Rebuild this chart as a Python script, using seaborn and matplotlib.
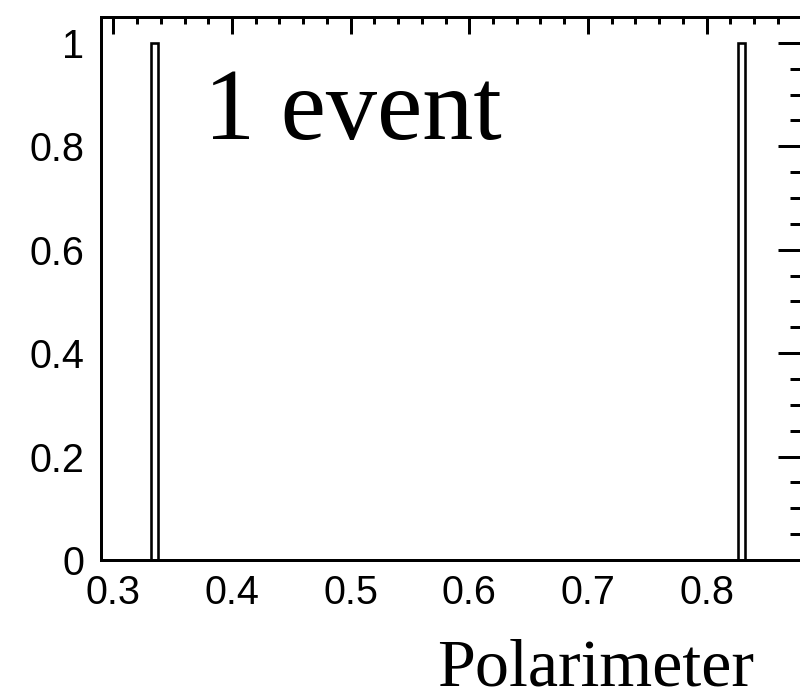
import numpy as np
import pandas as pd
import matplotlib
matplotlib.use("Agg")
import matplotlib.pyplot as plt
from matplotlib.ticker import MultipleLocator, FuncFormatter
import seaborn as sns

# Polarimeter values of the recorded entries
polarimeter = [0.333, 0.830]

# Histogram binning
n_bins = 100
x_range = (0.29, 0.88)

# Axis ticks
x_major = [0.3, 0.4, 0.5, 0.6, 0.7, 0.8]
y_major = [0.0, 0.2, 0.4, 0.6, 0.8, 1.0]

annotation = "1 event"
x_title = "Polarimeter"

sns.set_style("white")
plt.rcParams["font.family"] = ["Liberation Sans", "DejaVu Sans"]
plt.rcParams.update({
    "text.color": "black",
    "axes.labelcolor": "black",
    "xtick.color": "black",
    "ytick.color": "black",
})

df = pd.DataFrame({"Polarimeter": polarimeter})

dpi = 100
fig = plt.figure(figsize=(8, 7), dpi=dpi)
ax = fig.add_axes([101.5 / 800, 140 / 700, 700 / 800, 543 / 700])

px = 72 / dpi  # points per pixel

sns.histplot(data=df, x="Polarimeter", bins=n_bins, binrange=x_range,
             fill=False, element="bars", color="black", linewidth=2.6 * px,
             ax=ax)

ax.set_xlim(*x_range)
ax.set_ylim(0, 1.05 * 1.0)

for s in ["left", "bottom", "top", "right"]:
    ax.spines[s].set_linewidth(3 * px)
    ax.spines[s].set_color("black")

ax.set_xticks(x_major)
ax.xaxis.set_minor_locator(MultipleLocator(0.02))
ax.set_yticks(y_major)
ax.yaxis.set_minor_locator(MultipleLocator(0.05))
ax.yaxis.set_major_formatter(FuncFormatter(lambda v, p: f"{v:g}"))
ax.xaxis.set_major_formatter(FuncFormatter(lambda v, p: f"{v:g}"))

ax.tick_params(axis="x", which="major", direction="in", length=13 * px,
               width=3 * px, labelsize=28.5, pad=14 * px, top=False)
ax.tick_params(axis="x", which="minor", direction="in", length=6 * px,
               width=3 * px, top=False)
ax.tick_params(axis="y", which="major", direction="in", length=24 * px,
               width=3 * px, labelsize=28.5, pad=17 * px, right=True)
ax.tick_params(axis="y", which="minor", direction="in", length=12 * px,
               width=3 * px, right=True)

# Top axis carries ticks only
top = ax.secondary_xaxis("top")
top.set_xticks(x_major)
top.xaxis.set_minor_locator(MultipleLocator(0.02))
top.tick_params(axis="x", which="major", direction="in", length=17 * px,
                width=3 * px, labelbottom=False, labeltop=False)
top.tick_params(axis="x", which="minor", direction="in", length=7 * px,
                width=3 * px)
top.spines["top"].set_linewidth(3 * px)

ax.set_ylabel("")
ax.set_xlabel(x_title, fontsize=49, family=["Liberation Serif", "DejaVu Serif"],
              ha="right", va="baseline", color="black")
ax.xaxis.set_label_coords((754 - 101.5) / 700, -126 / 543)

fig.text(204 / 800, 1 - 139 / 700, annotation, fontsize=73.5,
         family=["Liberation Serif", "DejaVu Serif"], ha="left",
         va="baseline", color="black")

fig.savefig("out.png", dpi=dpi)
